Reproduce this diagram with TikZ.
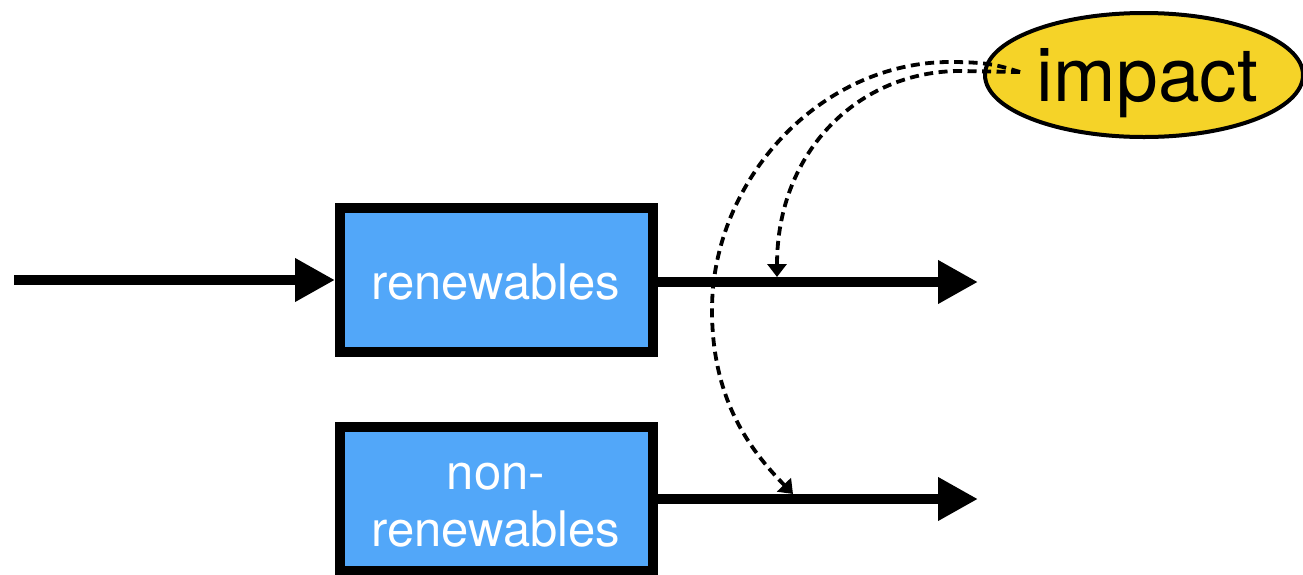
\documentclass[tikz,border=0pt]{standalone}
\usepackage{fontspec}
\setmainfont{TeX Gyre Heros}
\usetikzlibrary{arrows.meta,shapes.geometric,shadows}
\definecolor{boxblue}{RGB}{82,167,249}
\definecolor{impactyellow}{RGB}{245,211,40}
\begin{document}
\begin{tikzpicture}[x=1pt,y=-1pt,
  source/.style={draw=black, line width=10pt, fill=boxblue,
    minimum width=313pt, minimum height=144pt, inner sep=0pt,
    drop shadow={opacity=0.22, shadow xshift=1pt, shadow yshift=-2pt}},
  sourcetext/.style={inner sep=0pt, text=white, align=center,
    font=\fontsize{49}{57}\selectfont},
  flow/.style={line width=10pt, -{Triangle[length=40pt,width=41pt]}},
  influence/.style={line width=3.8pt, dash pattern=on 9pt off 5.5pt,
    -{Triangle[length=13pt,width=19pt]}},
  impactshape/.style={ellipse, draw=black, line width=4pt, fill=impactyellow,
    minimum width=318pt, minimum height=124pt, inner sep=0pt,
    drop shadow={opacity=0.2, shadow xshift=0.5pt, shadow yshift=-2pt}},
  impactlabel/.style={anchor=base, inner sep=0pt, text=black,
    font=\fontsize{75}{80}\selectfont}]

  % canvas
  \path[use as bounding box, fill=white] (0,0) rectangle (1303,574);

  % energy sources
  \node[source] (ren) at (496.5,280) {};
  \node[sourcetext, anchor=base] (rentext) at (496,299.3) {renewables};
  \node[source] (non) at (496.5,499) {};
  \node[sourcetext, anchor=north] (nontext) at (496,462.5) {non-\\renewables};

  % impact bubble
  \node[impactshape] (impact) at (1144,75) {};
  \node[impactlabel] (impacttext) at (1147.5,101.7) {impact};

  % flow ends
  \coordinate (feed) at (14,280);
  \coordinate (renout) at (978,282);
  \coordinate (nonout) at (978,499);

  % flows
  \draw[flow] (feed) -- (ren.west);
  \draw[flow] (ren.east |- renout) -- (renout);
  \draw[flow] (non.east) -- (nonout);

  % influence of impact on both flows
  \coordinate (src) at (1020,72);
  \coordinate (hitR) at (777,277);
  \coordinate (hitN) at (793,494);
  \draw[influence] (src) -- (960,71)
    .. controls (860,71) and (777,150) .. (hitR);
  \draw[influence] (src) .. controls (1000,66) and (990,62) .. (950,62)
    .. controls (820,62) and (712,180) .. (712,310)
    .. controls (712,400) and (750,450) .. (hitN);
\end{tikzpicture}
\end{document}
